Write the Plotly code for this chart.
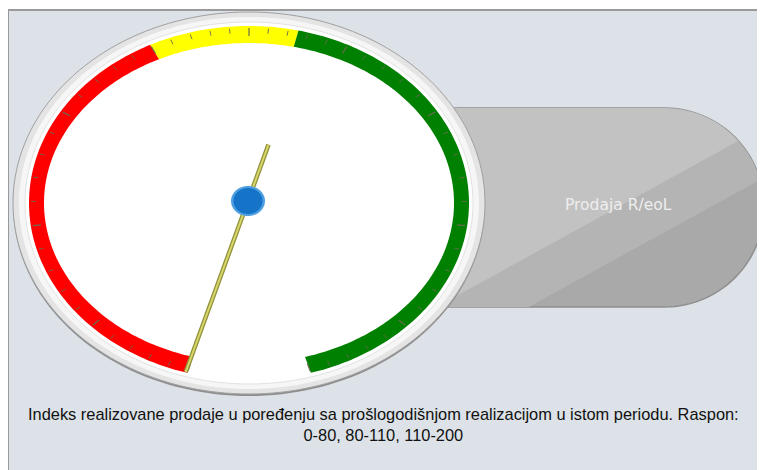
import math
import plotly.graph_objects as go

# ---- data ----
scale_min = 0
scale_max = 200
band_edges = [0, 80, 110, 200]
band_colors = ["#ff0000", "#ffff00", "#008000"]
gauge_value = 0
minor_step = 4
major_step = 20
gauge_label = "Prodaja R/eoL"
caption = ("Indeks realizovane prodaje u poređenju sa prošlogodišnjom realizacijom u istom periodu. Raspon:"
           "<br>0-80, 80-110, 110-200")

W, H = 765, 470
OFF = 8  # page body margin
CX, CY = 249, 203
START_ANG, END_ANG = -160.0, 160.0


def ang(v):
    return START_ANG + (v - scale_min) / (scale_max - scale_min) * (END_ANG - START_ANG)


def ell_pt(phi_deg, a, b, cx=CX, cy=CY):
    p = math.radians(phi_deg)
    s, c = math.sin(p), math.cos(p)
    r = 1.0 / math.sqrt((s / a) ** 2 + (c / b) ** 2)
    return cx + r * s, cy - r * c


def path_from(pts, close=True):
    d = "M " + " L ".join(f"{x:.2f},{y:.2f}" for x, y in pts)
    return d + (" Z" if close else "")


def ellipse_path(cx, cy, a, b, n=180):
    pts = [(cx + a * math.sin(2 * math.pi * i / n), cy - b * math.cos(2 * math.pi * i / n)) for i in range(n)]
    return path_from(pts)


def clip(poly, a, b, c):
    out = []
    n = len(poly)
    for i in range(n):
        p, q = poly[i], poly[(i + 1) % n]
        fp = a * p[0] + b * p[1] + c
        fq = a * q[0] + b * q[1] + c
        if fp >= 0:
            out.append(p)
        if (fp >= 0) != (fq >= 0):
            t = fp / (fp - fq)
            out.append((p[0] + t * (q[0] - p[0]), p[1] + t * (q[1] - p[1])))
    return out


shapes = []
annotations = []

# background frame
shapes.append(dict(type="rect", x0=0, y0=0, x1=W + 10, y1=H + 10, fillcolor="white", line=dict(width=0), layer="below"))
shapes.append(dict(type="rect", x0=8, y0=10, x1=W + 10, y1=H + 10, fillcolor="#dce2e7",
                   line=dict(color="#9a9a9a", width=2), layer="below"))

# pill panel
PX0, PY0, PY1, PX1 = 430, 108, 307, 764
R = (PY1 - PY0) / 2
pcx = PX1 - R
pcy = (PY0 + PY1) / 2
pill = [(PX0, PY0)]
for i in range(0, 61):
    t = -math.pi / 2 + math.pi * i / 60
    pill.append((pcx + R * math.cos(t), pcy + R * math.sin(t)))
pill.append((PX0, PY1))
shapes.append(dict(type="path", path=path_from(pill), fillcolor="#aaa9aa",
                   line=dict(color="#8e8e8e", width=1.5), layer="below"))
k = 0.55
band_top = clip(pill, -k, -1, 133 + k * 753)
mid = clip(pill, -k, -1, 177 + k * 765)
mid = clip(mid, k, 1, -(133 + k * 753))
shapes.append(dict(type="path", path=path_from(mid), fillcolor="#b4b4b4", line=dict(width=0), layer="below"))
shapes.append(dict(type="path", path=path_from(band_top), fillcolor="#c2c2c2", line=dict(width=0), layer="below"))
annotations.append(dict(x=618, y=205, xref="x", yref="y", text=gauge_label, showarrow=False,
                        font=dict(family="DejaVu Sans", size=15.5, color="#eeeeee")))

# gauge bezel
shapes.append(dict(type="path", path=ellipse_path(CX, CY + 2, 236, 191), fillcolor="#8e8e8e",
                   line=dict(width=0), layer="below"))
shapes.append(dict(type="path", path=ellipse_path(CX, CY, 236, 191), fillcolor="#e4e4e4",
                   line=dict(color="#a0a0a0", width=1), layer="below"))
shapes.append(dict(type="path", path=ellipse_path(CX, CY, 230, 186), fillcolor="#f6f6f6",
                   line=dict(width=0), layer="below"))
shapes.append(dict(type="path", path=ellipse_path(CX, CY, 224, 181), fillcolor="#ffffff",
                   line=dict(color="#e2e2e2", width=1), layer="below"))

# colour bands
RA_O, RB_O = 220, 177
RA_I, RB_I = 205, 160
for v0, v1, col in zip(band_edges[:-1], band_edges[1:], band_colors):
    a0, a1 = ang(v0), ang(v1)
    n = max(4, int(abs(a1 - a0)))
    outer = [ell_pt(a0 + (a1 - a0) * i / n, RA_O, RB_O) for i in range(n + 1)]
    inner = [ell_pt(a1 - (a1 - a0) * i / n, RA_I, RB_I) for i in range(n + 1)]
    shapes.append(dict(type="path", path=path_from(outer + inner), fillcolor=col,
                       line=dict(width=0), layer="below"))

# ticks
v = scale_min
while v <= scale_max + 1e-9:
    a = ang(v)
    major = (v - scale_min) % major_step == 0
    L = 8 if major else 5
    x0, y0 = ell_pt(a, RA_O - 2, RB_O - 2)
    x1, y1 = ell_pt(a, RA_O - 2 - L, RB_O - 2 - L)
    shapes.append(dict(type="line", x0=x0, y0=y0, x1=x1, y1=y1,
                       line=dict(color="#6a6a50", width=1.2 if major else 0.9), layer="below"))
    v += minor_step

# needle
na = ang(gauge_value)
HX, HY = 248, 201
tipx, tipy = ell_pt(na, 182, 182, HX, HY)
tailx, taily = ell_pt(na + 180, 60, 60, HX, HY)
fig = go.Figure()
fig.add_trace(go.Scatter(x=[tailx, tipx], y=[taily, tipy], mode="lines",
                         line=dict(color="#8f8f3a", width=4.5), hoverinfo="skip", showlegend=False))
fig.add_trace(go.Scatter(x=[tailx, tipx], y=[taily, tipy], mode="lines",
                         line=dict(color="#d6d66a", width=2), hoverinfo="skip", showlegend=False))
hub_edge = ellipse_path(HX, HY, 17, 15)
hub_core = ellipse_path(HX, HY, 14.5, 13)
shapes_above = [
    dict(type="path", path=hub_edge, fillcolor="#4f9fe0", line=dict(width=0), layer="above"),
    dict(type="path", path=hub_core, fillcolor="#1573c8", line=dict(width=0), layer="above"),
]

annotations.append(dict(x=383, y=424, xref="x", yref="y", text=caption, showarrow=False,
                        align="center",
                        font=dict(family="Liberation Sans Narrow, Liberation Sans, Arial", size=16.4, color="#111111")))

fig.update_layout(
    width=W - OFF, height=H - OFF, margin=dict(l=0, r=0, t=0, b=0),
    paper_bgcolor="#dce2e7", plot_bgcolor="#dce2e7",
    xaxis=dict(range=[OFF, W], visible=False, fixedrange=True),
    yaxis=dict(range=[H, OFF], visible=False, fixedrange=True),
    shapes=shapes + shapes_above, annotations=annotations, showlegend=False,
)
fig.write_html("out.html")
